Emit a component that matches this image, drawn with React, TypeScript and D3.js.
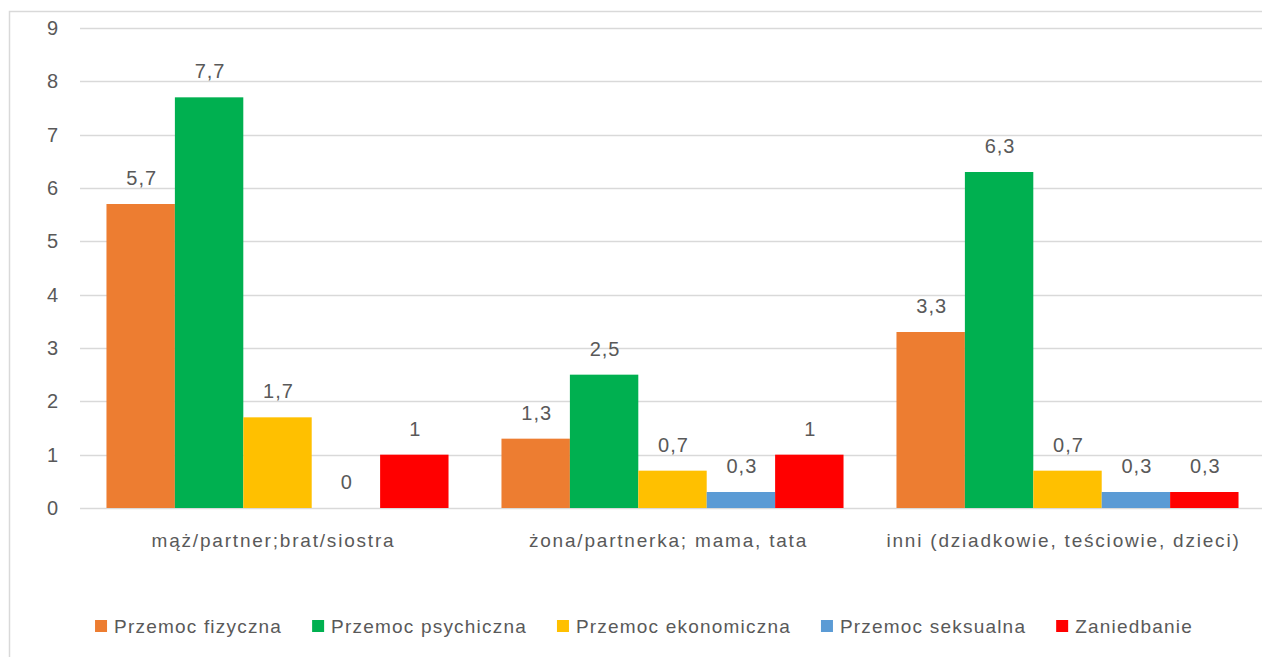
import React, { useEffect, useRef } from 'react';
import * as d3 from 'd3';

const categories = [
  'mąż/partner;brat/siostra',
  'żona/partnerka; mama, tata',
  'inni (dziadkowie, teściowie, dzieci)',
];
const seriesNames = [
  'Przemoc fizyczna',
  'Przemoc psychiczna',
  'Przemoc ekonomiczna',
  'Przemoc seksualna',
  'Zaniedbanie',
];
const seriesColors = ['#ED7D31', '#00B050', '#FFC000', '#5B9BD5', '#FF0000'];
const fizyczna = [5.7, 1.3, 3.3];
const psychiczna = [7.7, 2.5, 6.3];
const ekonomiczna = [1.7, 0.7, 0.7];
const seksualna = [0, 0.3, 0.3];
const zaniedbanie = [1, 1, 0.3];
const yTicks = [0, 1, 2, 3, 4, 5, 6, 7, 8, 9];

const seriesValues = [fizyczna, psychiczna, ekonomiczna, seksualna, zaniedbanie];

const W = 1262;
const H = 657;
const FONT = '"Liberation Sans", Arial, sans-serif';
const TEXT = '#595959';

const App: React.FC = () => {
  const ref = useRef<SVGSVGElement>(null);

  useEffect(() => {
    document.body.style.margin = '0';
    if (!ref.current) return;
    const svg = d3.select(ref.current);
    svg.selectAll('*').remove();

    const plot = { left: 80, right: 1265, top: 28, bottom: 508 };

    // chart frame
    svg.append('path')
      .attr('d', `M9.5,${H + 2}V11.5H${W + 2}`)
      .attr('fill', 'none')
      .attr('stroke', '#d9d9d9')
      .attr('stroke-width', 1.5);

    const y = d3.scaleLinear().domain([0, 9]).range([plot.bottom, plot.top]);
    const x = d3.scaleBand<string>().domain(categories).range([plot.left, plot.right]);
    const xs = d3.scaleBand<string>()
      .domain(seriesNames)
      .range([0, x.bandwidth()])
      .paddingInner(0)
      .paddingOuter(0.387);

    // gridlines
    svg.append('g')
      .selectAll('line')
      .data(yTicks)
      .enter().append('line')
      .attr('x1', plot.left)
      .attr('x2', W)
      .attr('y1', d => Math.round(y(d)) + 0.5)
      .attr('y2', d => Math.round(y(d)) + 0.5)
      .attr('stroke', '#d9d9d9')
      .attr('stroke-width', 1.5);

    // y tick labels
    svg.append('g')
      .selectAll('text')
      .data(yTicks)
      .enter().append('text')
      .attr('x', 58)
      .attr('y', d => y(d) + 7)
      .attr('text-anchor', 'end')
      .attr('font-family', FONT)
      .attr('font-size', 20)
      .attr('fill', TEXT)
      .text(d => String(d));

    const fmt = (v: number) => String(v).replace('.', ',');

    // bars
    const groups = svg.append('g')
      .selectAll('g')
      .data(categories)
      .enter().append('g')
      .attr('transform', c => `translate(${x(c)},0)`);

    groups.each(function (c, ci) {
      const g = d3.select(this);
      seriesNames.forEach((s, si) => {
        const v = seriesValues[si][ci];
        g.append('rect')
          .attr('x', xs(s)!)
          .attr('width', xs.bandwidth())
          .attr('y', y(v))
          .attr('height', plot.bottom - y(v))
          .attr('fill', seriesColors[si]);
        g.append('text')
          .attr('x', xs(s)! + xs.bandwidth() / 2 + 1)
          .attr('y', y(v) - 19)
          .attr('text-anchor', 'middle')
          .attr('font-family', FONT)
          .attr('font-size', 20)
          .attr('letter-spacing', 1)
          .attr('fill', TEXT)
          .text(fmt(v));
      });
    });

    // category labels
    svg.append('g')
      .selectAll('text')
      .data(categories)
      .enter().append('text')
      .attr('x', c => x(c)! + x.bandwidth() / 2 - 4)
      .attr('y', 547)
      .attr('text-anchor', 'middle')
      .attr('font-family', FONT)
      .attr('font-size', 19)
      .attr('letter-spacing', 1.8)
      .attr('fill', TEXT)
      .text(c => c);

    // legend
    const legend = svg.append('g');
    const items = seriesNames.map((s, i) => {
      const it = legend.append('g');
      it.append('rect')
        .attr('width', 12).attr('height', 12)
        .attr('y', 620)
        .attr('fill', seriesColors[i]);
      const t = it.append('text')
        .attr('x', 19)
        .attr('y', 633)
        .attr('font-family', FONT)
        .attr('font-size', 19)
        .attr('letter-spacing', 1.2)
        .attr('fill', TEXT)
        .text(s);
      const w = (t.node() as SVGTextElement).getComputedTextLength();
      return { it, w: 19 + w };
    });
    const spacing = 30;
    const total = d3.sum(items, d => d.w) + spacing * (items.length - 1);
    let cx = 644 - total / 2;
    items.forEach(d => {
      d.it.attr('transform', `translate(${cx},0)`);
      cx += d.w + spacing;
    });
  }, []);

  return <svg ref={ref} width={W} height={H} style={{ display: 'block', background: '#fff' }} />;
};

export default App;
